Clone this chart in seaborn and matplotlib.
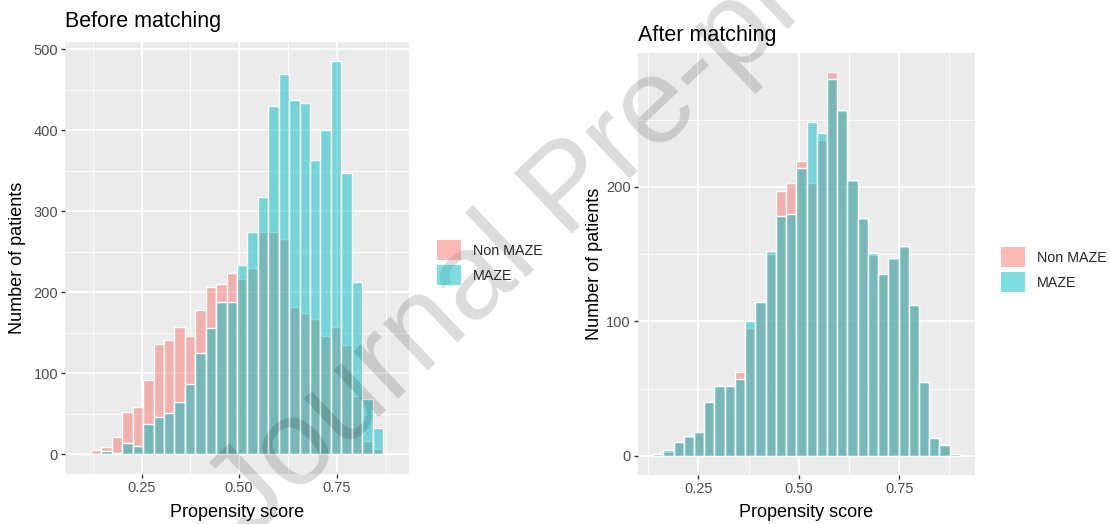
import numpy as np
import pandas as pd
import matplotlib
matplotlib.use("Agg")
import matplotlib.pyplot as plt
from matplotlib.patches import Patch
import seaborn as sns

# ---- data: histogram counts per bin (30 bins per panel) ----
groups = ["Non MAZE", "MAZE"]
colors = {"Non MAZE": "#F8766D", "MAZE": "#00BFC4"}

before_start, before_width = 0.094, 0.0267
before_non_maze = [1, 5, 9, 21, 52, 59, 92, 136, 141, 157, 146, 178, 206, 210, 224,
                   216, 230, 274, 275, 266, 182, 175, 167, 146, 157, 135, 72, 17, 6, 1]
before_maze = [0, 0, 4, 2, 14, 10, 38, 46, 51, 64, 87, 125, 156, 188, 188,
               234, 275, 318, 430, 470, 437, 433, 363, 400, 485, 347, 213, 68, 32, 1]

after_start, after_width = 0.137, 0.02547
after_non_maze = [1, 3, 10, 14, 18, 40, 52, 52, 62, 95, 114, 150, 197, 203, 219,
                  203, 235, 285, 256, 204, 176, 149, 135, 146, 155, 112, 55, 13, 9, 1]
after_maze = [1, 4, 10, 15, 18, 40, 52, 52, 57, 100, 114, 152, 178, 180, 214,
              248, 240, 280, 257, 205, 177, 151, 135, 147, 156, 112, 55, 13, 8, 1]

x_ticks = [0.25, 0.50, 0.75]
x_ticklabels = ["0.25", "0.50", "0.75"]
titles = ["Before matching", "After matching"]
x_label = "Propensity score"
y_label = "Number of patients"

W, H = 1111, 524
sns.set_theme(style="darkgrid")
plt.rcParams["font.family"] = ["Liberation Sans", "DejaVu Sans"]

fig = plt.figure(figsize=(W / 100, H / 100), dpi=100)
fig.patch.set_facecolor("white")


def px_axes(l, t, r, b):
    return fig.add_axes([l / W, 1 - b / H, (r - l) / W, (b - t) / H])


def panel(ax, start, width, non_maze, maze, yticks, title, title_xy, ylab_x):
    n = len(maze)
    edges = start + width * np.arange(n + 1)
    mids = (edges[:-1] + edges[1:]) / 2
    df = pd.DataFrame({
        "score": np.concatenate([mids, mids]),
        "count": np.concatenate([non_maze, maze]),
        "group": ["Non MAZE"] * n + ["MAZE"] * n,
    })
    for g in groups:
        sub = df[df["group"] == g]
        sns.histplot(data=sub, x="score", weights="count", bins=list(edges),
                     color=colors[g], alpha=0.5, edgecolor="white",
                     linewidth=1.0, ax=ax, legend=False)

    ax.set_facecolor("#EBEBEB")
    for s in ax.spines.values():
        s.set_visible(False)
    ax.set_xticks(x_ticks)
    ax.set_xticklabels(x_ticklabels)
    ax.set_yticks(yticks)
    ax.set_yticklabels([str(v) for v in yticks])
    ax.set_xticks([0.125, 0.375, 0.625, 0.875], minor=True)
    ax.set_yticks([v + (yticks[1] - yticks[0]) / 2 for v in yticks], minor=True)

    # ggplot-like limits: 5% padding (set after ticks so they do not widen the view)
    lo, hi = edges[0], edges[-1]
    ax.set_xlim(lo - 0.05 * (hi - lo), hi + 0.05 * (hi - lo))
    ymax = max(max(non_maze), max(maze))
    ax.set_ylim(-0.05 * ymax, 1.05 * ymax)

    ax.grid(which="major", color="white", linewidth=1.3)
    ax.grid(which="minor", color="white", linewidth=0.6)
    ax.set_axisbelow(True)
    ax.tick_params(which="major", length=3, width=1, color="#333333",
                   labelsize=10.5, labelcolor="#4D4D4D", pad=2,
                   bottom=True, left=True)
    ax.tick_params(which="minor", length=0)
    ax.set_xlabel(x_label, fontsize=13, color="black")
    ax.set_ylabel(y_label, fontsize=13, color="black")
    ax.xaxis.set_label_coords(0.5, -0.088)
    ax.xaxis.label.set_va("center")
    ax.yaxis.set_label_coords(ylab_x, 0.5)
    ax.yaxis.label.set_va("center")
    fig.text(title_xy[0] / W, 1 - title_xy[1] / H, title, fontsize=15.5,
             ha="left", va="center", color="black")


ax1 = px_axes(65, 41.7, 409, 474)
panel(ax1, before_start, before_width, before_non_maze, before_maze,
      [0, 100, 200, 300, 400, 500], titles[0], (65, 21), -0.137)

ax2 = px_axes(637.7, 53.3, 975.3, 475)
panel(ax2, after_start, after_width, after_non_maze, after_maze,
      [0, 100, 200], titles[1], (638, 35), -0.129)

# legends
handles = [Patch(facecolor=matplotlib.colors.to_rgba(colors[g], 0.5), edgecolor="none")
           for g in groups]
for (lx, ly) in [(437, 240), (1001, 247)]:
    fig.legend(handles, groups, loc="upper left",
               bbox_to_anchor=(lx / W, 1 - ly / H), frameon=False,
               fontsize=10.3, handlelength=1.7, handleheight=1.8,
               labelspacing=0.35, handletextpad=0.8, borderpad=0,
               borderaxespad=0)

# diagonal watermark
fig.text(250 / W, 1 - 540 / H, "Journal Pre-proof", fontsize=88,
         color=(0, 0, 0, 0.14), rotation=43.5, rotation_mode="anchor",
         ha="left", va="baseline")

fig.savefig("out.png", dpi=100, facecolor="white")
